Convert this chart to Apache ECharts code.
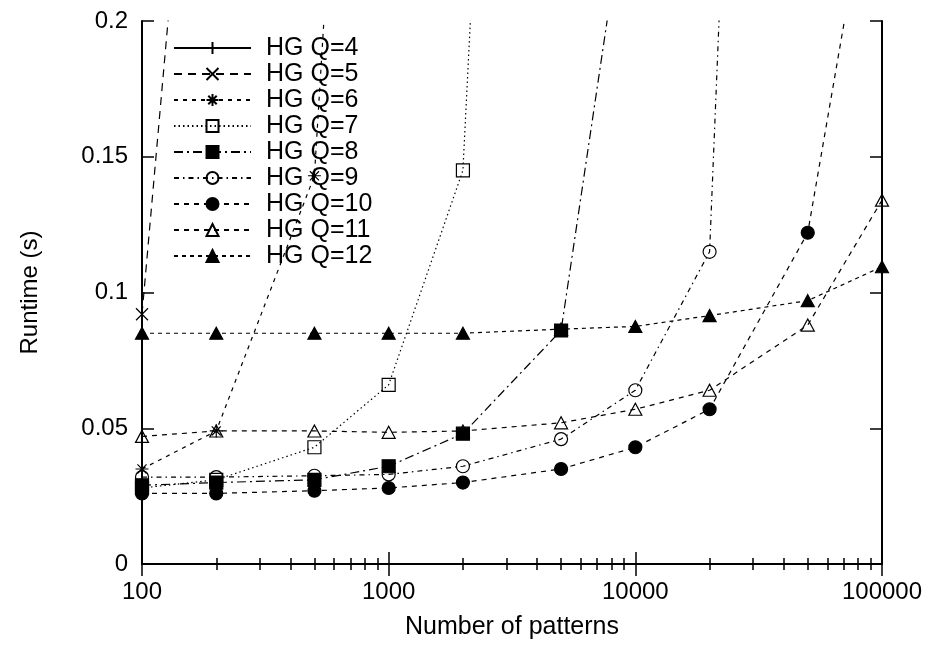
<!DOCTYPE html>
<html>
<head>
<meta charset="utf-8">
<script src="https://cdn.jsdelivr.net/npm/echarts@6/dist/echarts.min.js"></script>
<style>
  html, body { margin: 0; padding: 0; background: #fff; }
  #chart { width: 933px; height: 646px; }
</style>
</head>
<body>
<div id="chart"></div>
<script>
// Number of patterns (x) and runtime in seconds (y) for each HG Q setting.
const patterns = [100, 200, 500, 1000, 2000, 5000, 10000, 20000, 50000, 100000];
const hgQ4  = [0.25, 0.95];
const hgQ5  = [0.092, 0.40];
const hgQ6  = [0.035, 0.049, 0.143, 0.59];
const hgQ7  = [0.028, 0.031, 0.043, 0.066, 0.145, 0.87];
const hgQ8  = [0.029, 0.030, 0.031, 0.036, 0.048, 0.086, 0.27];
const hgQ9  = [0.032, 0.032, 0.0325, 0.033, 0.036, 0.046, 0.064, 0.115, 1.0];
const hgQ10 = [0.026, 0.026, 0.027, 0.028, 0.030, 0.035, 0.043, 0.057, 0.122, 0.28];
const hgQ11 = [0.047, 0.049, 0.049, 0.0485, 0.049, 0.052, 0.057, 0.064, 0.088, 0.134];
const hgQ12 = [0.085, 0.085, 0.085, 0.085, 0.085, 0.0865, 0.0875, 0.0915, 0.097, 0.1095];

const seriesNames = ['HG Q=4', 'HG Q=5', 'HG Q=6', 'HG Q=7', 'HG Q=8', 'HG Q=9', 'HG Q=10', 'HG Q=11', 'HG Q=12'];
const seriesValues = [hgQ4, hgQ5, hgQ6, hgQ7, hgQ8, hgQ9, hgQ10, hgQ11, hgQ12];

// Point styles in the gnuplot manner
const PLUS = 'path://M0,5L10,5M5,0L5,10';
const CROSS = 'path://M0,0L10,10M10,0L0,10';
const STAR = 'path://M0,5L10,5M5,0L5,10M1.5,1.5L8.5,8.5M8.5,1.5L1.5,8.5';
const styles = [
  { symbol: PLUS,       size: 13, dash: 'solid',         fill: '#000' },
  { symbol: CROSS,      size: 12, dash: [8, 6],          fill: '#000' },
  { symbol: STAR,       size: 13, dash: [4, 5],          fill: '#000' },
  { symbol: 'rect',     size: 13, dash: [1.5, 3],        fill: 'rgba(0,0,0,0)' },
  { symbol: 'rect',     size: 13, dash: [9, 4, 2, 4],    fill: '#000' },
  { symbol: 'circle',   size: 13, dash: [5, 4, 1.5, 4],  fill: 'rgba(0,0,0,0)' },
  { symbol: 'circle',   size: 13, dash: [5, 5],          fill: '#000' },
  { symbol: 'triangle', size: [13, 12], dash: [5, 5],    fill: 'rgba(0,0,0,0)' },
  { symbol: 'triangle', size: [13, 12], dash: [4, 4],    fill: '#000' }
];

const FONT = "'Liberation Sans', Arial, Helvetica, sans-serif";
const FS = 24;

const series = seriesNames.map((name, i) => ({
  name,
  type: 'line',
  xAxisIndex: 0,
  yAxisIndex: 0,
  clip: true,
  data: seriesValues[i].map((v, j) => [patterns[j], v]),
  symbol: styles[i].symbol,
  symbolSize: styles[i].size,
  showAllSymbol: true,
  lineStyle: { color: '#000', width: 1.2, type: styles[i].dash },
  itemStyle: { color: styles[i].fill, borderColor: '#000', borderWidth: 1.2 },
  emphasis: { disabled: true },
  animation: false
}));

// Log x axis with ticks pointing into the plot; minor ticks at 2..9 per decade
const logAxis = (position, withLabels) => ({
  type: 'log', logBase: 10, min: 100, max: 100000, position,
  axisLine: { show: true, lineStyle: { color: '#000', width: 2 } },
  axisTick: { show: true, inside: true, length: 12, lineStyle: { color: '#000', width: 1.5 } },
  minorTick: { show: true, splitNumber: 9, length: 6, lineStyle: { color: '#000', width: 1.5 } },
  axisLabel: withLabels ? {
    show: true, margin: 16, fontFamily: FONT, fontSize: FS, color: '#000',
    formatter: v => String(Math.round(v))
  } : { show: false },
  splitLine: { show: false },
  minorSplitLine: { show: false }
});

const xBottom = Object.assign(logAxis('bottom', true), {
  name: 'Number of patterns', nameLocation: 'middle', nameGap: 51,
  nameTextStyle: { fontFamily: FONT, fontSize: 25, color: '#000' }
});
const xTop = logAxis('top', false);

const chart = echarts.init(document.getElementById('chart'), null, { renderer: 'canvas' });
chart.setOption({
  backgroundColor: '#fff',
  animation: false,
  textStyle: { fontFamily: FONT, color: '#000' },
  grid: { left: 142, right: 51, top: 21, bottom: 82, containLabel: false },
  legend: {
    orient: 'vertical',
    left: 173,
    top: 35,
    padding: 0,
    itemWidth: 77,
    itemHeight: 15,
    itemGap: 0,
    selectedMode: false,
    textStyle: { fontFamily: FONT, fontSize: 25, color: '#000', lineHeight: 26, padding: [0, 0, 0, 10] },
    data: seriesNames
  },
  xAxis: [xBottom, xTop],
  yAxis: [
    {
      type: 'value', min: 0, max: 0.2, interval: 0.05, position: 'left',
      name: 'Runtime (s)', nameLocation: 'middle', nameGap: 100, nameRotate: 90,
      nameTextStyle: { fontFamily: FONT, fontSize: FS, color: '#000' },
      axisLine: { show: true, lineStyle: { color: '#000', width: 2 } },
      axisTick: { show: true, inside: true, length: 12, lineStyle: { color: '#000', width: 1.5 } },
      axisLabel: {
        show: true, margin: 14, fontFamily: FONT, fontSize: FS, color: '#000',
        formatter: v => String(Math.round(v * 100) / 100)
      },
      splitLine: { show: false }
    },
    {
      type: 'value', min: 0, max: 0.2, interval: 0.05, position: 'right',
      axisLine: { show: true, lineStyle: { color: '#000', width: 2 } },
      axisTick: { show: true, inside: true, length: 12, lineStyle: { color: '#000', width: 1.5 } },
      axisLabel: { show: false },
      splitLine: { show: false }
    }
  ],
  series
});
</script>
</body>
</html>
